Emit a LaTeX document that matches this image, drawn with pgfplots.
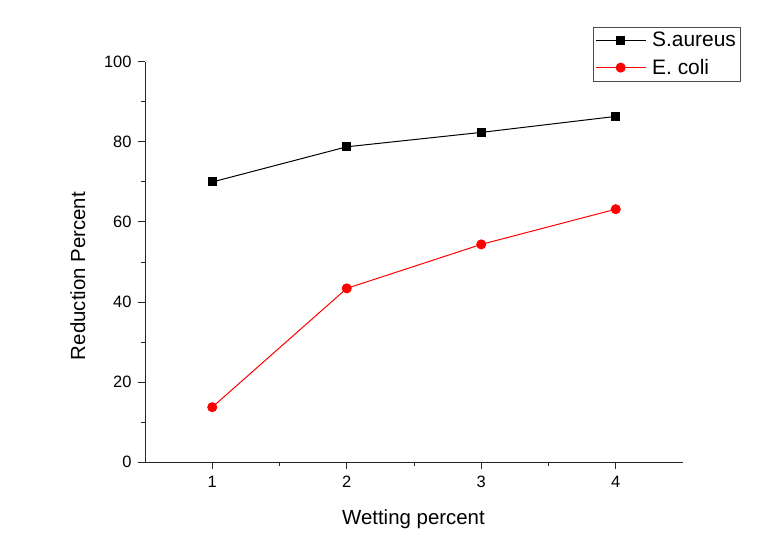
\documentclass[border=0pt]{standalone}
\usepackage{fontspec}
\setmainfont{Liberation Sans}
\usepackage{pgfplots}
\pgfplotsset{compat=1.18}

\begin{document}
\begin{tikzpicture}
\begin{axis}[name=ax, scale only axis, width=538bp, height=400bp,
  axis x line=bottom, axis y line=left,
  axis line style={-, line width=1pt, draw=black!85},
  xmin=0.5, xmax=4.5, ymin=0, ymax=100,
  xtick={1,2,3,4}, ytick={0,20,...,100},
  minor x tick num=1, minor y tick num=1,
  tick align=outside, major tick length=7bp, minor tick length=4bp,
  tick style={line width=1pt, draw=black!85},
  /pgf/number format/assume math mode=true,
  tick label style={font=\fontsize{16.5}{19}\selectfont},
  xticklabel style={yshift=-4bp},
  yticklabel style={xshift=-3bp},
  xlabel={Wetting percent}, ylabel={Reduction Percent},
  every axis x label/.style={at={(axis description cs:0.499,-0.155)}, anchor=base,
    font=\fontsize{20.5}{24}\selectfont},
  every axis y label/.style={at={(axis description cs:-0.1115,0.465)}, anchor=base, rotate=90,
    font=\fontsize{20.5}{24}\selectfont},
  legend style={at={(axis description cs:0.8327,1.0875)}, anchor=north west,
    draw=black!70, font=\fontsize{21}{24}\selectfont, cells={anchor=west},
    inner xsep=2bp, inner ysep=3bp, row sep=7bp, column sep=4bp},
  legend image code/.code={\draw[mark repeat=2,mark phase=2,#1]
    plot coordinates {(0bp,0bp) (25bp,0bp) (50bp,0bp)};},
]
\addplot[black, line width=1pt, mark=square*, mark size=4bp]
  coordinates {(1,70.0) (2,78.8) (3,82.4) (4,86.4)};
\addplot[red, line width=1pt, mark=*, mark size=4.5bp]
  coordinates {(1,13.7) (2,43.4) (3,54.4) (4,63.2)};
\legend{S.aureus, E. coli}
\end{axis}
\pgfresetboundingbox
\path (ax.south west) ++(-145bp,-84bp) rectangle ++(774bp,546bp);
\end{tikzpicture}
\end{document}
